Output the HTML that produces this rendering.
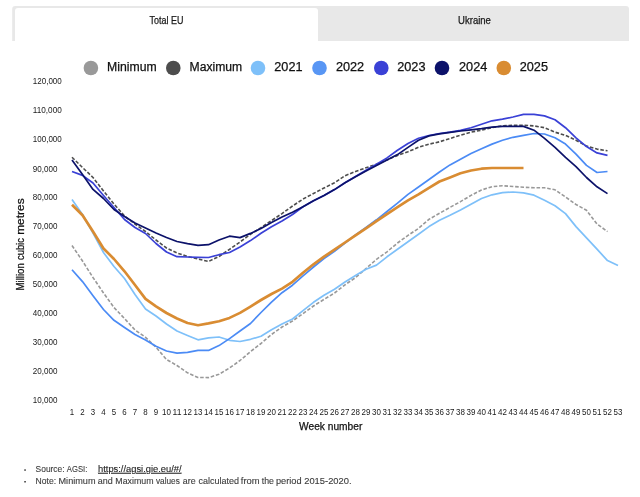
<!DOCTYPE html>
<html lang="en"><head><meta charset="utf-8"><title>Gas storage</title>
<style>
html,body{margin:0;padding:0;background:#fff;}
body{width:640px;height:497px;overflow:hidden;font-family:"Liberation Sans",sans-serif;}
svg{display:block}
svg text{font-family:"Liberation Sans",sans-serif;}
.ln{fill:none;stroke-linejoin:round;stroke-linecap:butt}
</style></head><body>
<svg width="640" height="497" viewBox="0 0 640 497">
<rect width="640" height="497" fill="#fff"/>

<path d="M12.2,41 V9 a3,3 0 0 1 3,-3 H626 a3,3 0 0 1 3,3 V41 Z" fill="#e8e8e8"/>
<path d="M15,42 V11 a3,3 0 0 1 3,-3 H315 a3,3 0 0 1 3,3 V42 Z" fill="#fff"/>
<text x="166.5" y="23.9" font-size="10.3" fill="#1a1a1a" stroke="#1a1a1a" stroke-width="0.25" text-anchor="middle" textLength="33.8" lengthAdjust="spacingAndGlyphs">Total EU</text>
<text x="474.5" y="23.9" font-size="10.3" fill="#1a1a1a" stroke="#1a1a1a" stroke-width="0.25" text-anchor="middle" textLength="32.8" lengthAdjust="spacingAndGlyphs">Ukraine</text>
<circle cx="90.9" cy="68" r="7.3" fill="#999999"/>
<text x="107.1" y="71" font-size="12.3" fill="#111" stroke="#111" stroke-width="0.25" textLength="49.6" lengthAdjust="spacingAndGlyphs">Minimum</text>
<circle cx="173.3" cy="68" r="7.3" fill="#4d4d4d"/>
<text x="189.6" y="71" font-size="12.3" fill="#111" stroke="#111" stroke-width="0.25" textLength="52.6" lengthAdjust="spacingAndGlyphs">Maximum</text>
<circle cx="258" cy="68" r="7.3" fill="#7ec0f9"/>
<text x="274.3" y="71" font-size="12.3" fill="#111" stroke="#111" stroke-width="0.25" textLength="28.2" lengthAdjust="spacingAndGlyphs">2021</text>
<circle cx="319.5" cy="68" r="7.3" fill="#5896f4"/>
<text x="335.9" y="71" font-size="12.3" fill="#111" stroke="#111" stroke-width="0.25" textLength="28.3" lengthAdjust="spacingAndGlyphs">2022</text>
<circle cx="381.3" cy="68" r="7.3" fill="#3a41d6"/>
<text x="397.2" y="71" font-size="12.3" fill="#111" stroke="#111" stroke-width="0.25" textLength="28.3" lengthAdjust="spacingAndGlyphs">2023</text>
<circle cx="442" cy="68" r="7.3" fill="#0c126a"/>
<text x="459" y="71" font-size="12.3" fill="#111" stroke="#111" stroke-width="0.25" textLength="28.3" lengthAdjust="spacingAndGlyphs">2024</text>
<circle cx="503.8" cy="68" r="7.3" fill="#d98c32"/>
<text x="519.7" y="71" font-size="12.3" fill="#111" stroke="#111" stroke-width="0.25" textLength="28.3" lengthAdjust="spacingAndGlyphs">2025</text>
<text x="32.8" y="84.1" font-size="8.2" fill="#1a1a1a" textLength="29.0" lengthAdjust="spacingAndGlyphs">120,000</text>
<text x="32.8" y="113.1" font-size="8.2" fill="#1a1a1a" textLength="29.0" lengthAdjust="spacingAndGlyphs">110,000</text>
<text x="32.8" y="142.0" font-size="8.2" fill="#1a1a1a" textLength="29.0" lengthAdjust="spacingAndGlyphs">100,000</text>
<text x="32.8" y="172.0" font-size="8.2" fill="#1a1a1a" textLength="24.6" lengthAdjust="spacingAndGlyphs">90,000</text>
<text x="32.8" y="200.0" font-size="8.2" fill="#1a1a1a" textLength="24.6" lengthAdjust="spacingAndGlyphs">80,000</text>
<text x="32.8" y="228.9" font-size="8.2" fill="#1a1a1a" textLength="24.6" lengthAdjust="spacingAndGlyphs">70,000</text>
<text x="32.8" y="257.9" font-size="8.2" fill="#1a1a1a" textLength="24.6" lengthAdjust="spacingAndGlyphs">60,000</text>
<text x="32.8" y="286.9" font-size="8.2" fill="#1a1a1a" textLength="24.6" lengthAdjust="spacingAndGlyphs">50,000</text>
<text x="32.8" y="315.9" font-size="8.2" fill="#1a1a1a" textLength="24.6" lengthAdjust="spacingAndGlyphs">40,000</text>
<text x="32.8" y="344.8" font-size="8.2" fill="#1a1a1a" textLength="24.6" lengthAdjust="spacingAndGlyphs">30,000</text>
<text x="32.8" y="373.8" font-size="8.2" fill="#1a1a1a" textLength="24.6" lengthAdjust="spacingAndGlyphs">20,000</text>
<text x="32.8" y="402.8" font-size="8.2" fill="#1a1a1a" textLength="24.6" lengthAdjust="spacingAndGlyphs">10,000</text>
<text x="72.0" y="414.6" font-size="8.2" fill="#1a1a1a" text-anchor="middle" textLength="4.4" lengthAdjust="spacingAndGlyphs">1</text>
<text x="82.5" y="414.6" font-size="8.2" fill="#1a1a1a" text-anchor="middle" textLength="4.4" lengthAdjust="spacingAndGlyphs">2</text>
<text x="93.0" y="414.6" font-size="8.2" fill="#1a1a1a" text-anchor="middle" textLength="4.4" lengthAdjust="spacingAndGlyphs">3</text>
<text x="103.5" y="414.6" font-size="8.2" fill="#1a1a1a" text-anchor="middle" textLength="4.4" lengthAdjust="spacingAndGlyphs">4</text>
<text x="114.0" y="414.6" font-size="8.2" fill="#1a1a1a" text-anchor="middle" textLength="4.4" lengthAdjust="spacingAndGlyphs">5</text>
<text x="124.5" y="414.6" font-size="8.2" fill="#1a1a1a" text-anchor="middle" textLength="4.4" lengthAdjust="spacingAndGlyphs">6</text>
<text x="135.0" y="414.6" font-size="8.2" fill="#1a1a1a" text-anchor="middle" textLength="4.4" lengthAdjust="spacingAndGlyphs">7</text>
<text x="145.5" y="414.6" font-size="8.2" fill="#1a1a1a" text-anchor="middle" textLength="4.4" lengthAdjust="spacingAndGlyphs">8</text>
<text x="156.0" y="414.6" font-size="8.2" fill="#1a1a1a" text-anchor="middle" textLength="4.4" lengthAdjust="spacingAndGlyphs">9</text>
<text x="166.5" y="414.6" font-size="8.2" fill="#1a1a1a" text-anchor="middle" textLength="8.9" lengthAdjust="spacingAndGlyphs">10</text>
<text x="177.0" y="414.6" font-size="8.2" fill="#1a1a1a" text-anchor="middle" textLength="8.9" lengthAdjust="spacingAndGlyphs">11</text>
<text x="187.5" y="414.6" font-size="8.2" fill="#1a1a1a" text-anchor="middle" textLength="8.9" lengthAdjust="spacingAndGlyphs">12</text>
<text x="198.0" y="414.6" font-size="8.2" fill="#1a1a1a" text-anchor="middle" textLength="8.9" lengthAdjust="spacingAndGlyphs">13</text>
<text x="208.5" y="414.6" font-size="8.2" fill="#1a1a1a" text-anchor="middle" textLength="8.9" lengthAdjust="spacingAndGlyphs">14</text>
<text x="219.0" y="414.6" font-size="8.2" fill="#1a1a1a" text-anchor="middle" textLength="8.9" lengthAdjust="spacingAndGlyphs">15</text>
<text x="229.5" y="414.6" font-size="8.2" fill="#1a1a1a" text-anchor="middle" textLength="8.9" lengthAdjust="spacingAndGlyphs">16</text>
<text x="240.0" y="414.6" font-size="8.2" fill="#1a1a1a" text-anchor="middle" textLength="8.9" lengthAdjust="spacingAndGlyphs">17</text>
<text x="250.5" y="414.6" font-size="8.2" fill="#1a1a1a" text-anchor="middle" textLength="8.9" lengthAdjust="spacingAndGlyphs">18</text>
<text x="261.0" y="414.6" font-size="8.2" fill="#1a1a1a" text-anchor="middle" textLength="8.9" lengthAdjust="spacingAndGlyphs">19</text>
<text x="271.5" y="414.6" font-size="8.2" fill="#1a1a1a" text-anchor="middle" textLength="8.9" lengthAdjust="spacingAndGlyphs">20</text>
<text x="282.0" y="414.6" font-size="8.2" fill="#1a1a1a" text-anchor="middle" textLength="8.9" lengthAdjust="spacingAndGlyphs">21</text>
<text x="292.5" y="414.6" font-size="8.2" fill="#1a1a1a" text-anchor="middle" textLength="8.9" lengthAdjust="spacingAndGlyphs">22</text>
<text x="303.0" y="414.6" font-size="8.2" fill="#1a1a1a" text-anchor="middle" textLength="8.9" lengthAdjust="spacingAndGlyphs">23</text>
<text x="313.5" y="414.6" font-size="8.2" fill="#1a1a1a" text-anchor="middle" textLength="8.9" lengthAdjust="spacingAndGlyphs">24</text>
<text x="324.0" y="414.6" font-size="8.2" fill="#1a1a1a" text-anchor="middle" textLength="8.9" lengthAdjust="spacingAndGlyphs">25</text>
<text x="334.5" y="414.6" font-size="8.2" fill="#1a1a1a" text-anchor="middle" textLength="8.9" lengthAdjust="spacingAndGlyphs">26</text>
<text x="345.0" y="414.6" font-size="8.2" fill="#1a1a1a" text-anchor="middle" textLength="8.9" lengthAdjust="spacingAndGlyphs">27</text>
<text x="355.5" y="414.6" font-size="8.2" fill="#1a1a1a" text-anchor="middle" textLength="8.9" lengthAdjust="spacingAndGlyphs">28</text>
<text x="366.0" y="414.6" font-size="8.2" fill="#1a1a1a" text-anchor="middle" textLength="8.9" lengthAdjust="spacingAndGlyphs">29</text>
<text x="376.5" y="414.6" font-size="8.2" fill="#1a1a1a" text-anchor="middle" textLength="8.9" lengthAdjust="spacingAndGlyphs">30</text>
<text x="387.0" y="414.6" font-size="8.2" fill="#1a1a1a" text-anchor="middle" textLength="8.9" lengthAdjust="spacingAndGlyphs">31</text>
<text x="397.5" y="414.6" font-size="8.2" fill="#1a1a1a" text-anchor="middle" textLength="8.9" lengthAdjust="spacingAndGlyphs">32</text>
<text x="408.0" y="414.6" font-size="8.2" fill="#1a1a1a" text-anchor="middle" textLength="8.9" lengthAdjust="spacingAndGlyphs">33</text>
<text x="418.5" y="414.6" font-size="8.2" fill="#1a1a1a" text-anchor="middle" textLength="8.9" lengthAdjust="spacingAndGlyphs">34</text>
<text x="429.0" y="414.6" font-size="8.2" fill="#1a1a1a" text-anchor="middle" textLength="8.9" lengthAdjust="spacingAndGlyphs">35</text>
<text x="439.5" y="414.6" font-size="8.2" fill="#1a1a1a" text-anchor="middle" textLength="8.9" lengthAdjust="spacingAndGlyphs">36</text>
<text x="450.0" y="414.6" font-size="8.2" fill="#1a1a1a" text-anchor="middle" textLength="8.9" lengthAdjust="spacingAndGlyphs">37</text>
<text x="460.5" y="414.6" font-size="8.2" fill="#1a1a1a" text-anchor="middle" textLength="8.9" lengthAdjust="spacingAndGlyphs">38</text>
<text x="471.0" y="414.6" font-size="8.2" fill="#1a1a1a" text-anchor="middle" textLength="8.9" lengthAdjust="spacingAndGlyphs">39</text>
<text x="481.5" y="414.6" font-size="8.2" fill="#1a1a1a" text-anchor="middle" textLength="8.9" lengthAdjust="spacingAndGlyphs">40</text>
<text x="492.0" y="414.6" font-size="8.2" fill="#1a1a1a" text-anchor="middle" textLength="8.9" lengthAdjust="spacingAndGlyphs">41</text>
<text x="502.5" y="414.6" font-size="8.2" fill="#1a1a1a" text-anchor="middle" textLength="8.9" lengthAdjust="spacingAndGlyphs">42</text>
<text x="513.0" y="414.6" font-size="8.2" fill="#1a1a1a" text-anchor="middle" textLength="8.9" lengthAdjust="spacingAndGlyphs">43</text>
<text x="523.5" y="414.6" font-size="8.2" fill="#1a1a1a" text-anchor="middle" textLength="8.9" lengthAdjust="spacingAndGlyphs">44</text>
<text x="534.0" y="414.6" font-size="8.2" fill="#1a1a1a" text-anchor="middle" textLength="8.9" lengthAdjust="spacingAndGlyphs">45</text>
<text x="544.5" y="414.6" font-size="8.2" fill="#1a1a1a" text-anchor="middle" textLength="8.9" lengthAdjust="spacingAndGlyphs">46</text>
<text x="555.0" y="414.6" font-size="8.2" fill="#1a1a1a" text-anchor="middle" textLength="8.9" lengthAdjust="spacingAndGlyphs">47</text>
<text x="565.5" y="414.6" font-size="8.2" fill="#1a1a1a" text-anchor="middle" textLength="8.9" lengthAdjust="spacingAndGlyphs">48</text>
<text x="576.0" y="414.6" font-size="8.2" fill="#1a1a1a" text-anchor="middle" textLength="8.9" lengthAdjust="spacingAndGlyphs">49</text>
<text x="586.5" y="414.6" font-size="8.2" fill="#1a1a1a" text-anchor="middle" textLength="8.9" lengthAdjust="spacingAndGlyphs">50</text>
<text x="597.0" y="414.6" font-size="8.2" fill="#1a1a1a" text-anchor="middle" textLength="8.9" lengthAdjust="spacingAndGlyphs">51</text>
<text x="607.5" y="414.6" font-size="8.2" fill="#1a1a1a" text-anchor="middle" textLength="8.9" lengthAdjust="spacingAndGlyphs">52</text>
<text x="618.0" y="414.6" font-size="8.2" fill="#1a1a1a" text-anchor="middle" textLength="8.9" lengthAdjust="spacingAndGlyphs">53</text>
<text x="330.7" y="429.7" font-size="10.3" fill="#111" stroke="#111" stroke-width="0.25" text-anchor="middle" textLength="63.2" lengthAdjust="spacingAndGlyphs">Week number</text>
<text transform="translate(23.7,290.4) rotate(-90)" font-size="10.3" fill="#111" stroke="#111" stroke-width="0.25" textLength="27.2" lengthAdjust="spacingAndGlyphs">Million</text>
<text transform="translate(23.7,260.0) rotate(-90)" font-size="10.3" fill="#111" stroke="#111" stroke-width="0.25" textLength="21.9" lengthAdjust="spacingAndGlyphs">cubic</text>
<text transform="translate(23.7,234.8) rotate(-90)" font-size="10.3" fill="#111" stroke="#111" stroke-width="0.25" textLength="36.4" lengthAdjust="spacingAndGlyphs">metres</text>
<path class="ln" d="M72.0,245.5 L82.5,261.0 L93.0,277.5 L103.5,293.0 L114.0,307.5 L124.5,318.5 L135.0,330.0 L145.5,337.3 L156.0,347.3 L166.5,359.5 L177.0,365.5 L187.5,372.8 L198.0,377.5 L208.5,377.6 L219.0,374.3 L229.5,368.0 L240.0,360.5 L250.5,351.6 L261.0,343.5 L271.5,334.5 L282.0,327.0 L292.5,321.0 L303.0,313.6 L313.5,306.0 L324.0,299.4 L334.5,293.0 L345.0,284.8 L355.5,277.6 L366.0,268.5 L376.5,259.3 L387.0,251.8 L397.5,243.0 L408.0,235.4 L418.5,228.4 L429.0,219.3 L439.5,213.3 L450.0,207.4 L460.5,201.6 L471.0,195.4 L481.5,190.0 L492.0,186.7 L502.5,185.7 L513.0,186.5 L523.5,187.2 L534.0,187.8 L544.5,187.8 L555.0,189.8 L565.5,197.0 L576.0,204.5 L586.5,210.3 L597.0,224.0 L607.5,231.6" stroke="#999999" stroke-width="1.6" stroke-dasharray="3.57 1.79"/>
<path class="ln" d="M72.0,157.3 L82.5,167.5 L93.0,177.5 L103.5,191.0 L114.0,204.0 L124.5,216.0 L135.0,224.0 L145.5,231.5 L156.0,240.0 L166.5,248.0 L177.0,253.0 L187.5,256.5 L198.0,259.0 L208.5,261.5 L219.0,256.5 L229.5,249.4 L240.0,242.0 L250.5,234.3 L261.0,227.6 L271.5,220.6 L282.0,213.6 L292.5,206.0 L303.0,199.1 L313.5,193.5 L324.0,188.0 L334.5,182.8 L345.0,175.7 L355.5,171.5 L366.0,167.8 L376.5,164.2 L387.0,159.9 L397.5,155.4 L408.0,151.8 L418.5,147.2 L429.0,144.2 L439.5,141.8 L450.0,138.5 L460.5,135.2 L471.0,132.2 L481.5,130.2 L492.0,127.7 L502.5,125.7 L513.0,125.3 L523.5,125.2 L534.0,125.9 L544.5,127.7 L555.0,132.2 L565.5,135.3 L576.0,140.3 L586.5,146.1 L597.0,149.1 L607.5,150.8" stroke="#4d4d4d" stroke-width="1.6" stroke-dasharray="3.57 1.79"/>
<path class="ln" d="M72.0,199.6 L82.5,214.5 L93.0,233.0 L103.5,252.5 L114.0,266.5 L124.5,278.5 L135.0,294.5 L145.5,309.0 L156.0,316.0 L166.5,324.0 L177.0,331.0 L187.5,335.5 L198.0,339.8 L208.5,337.9 L219.0,337.0 L229.5,340.3 L240.0,341.5 L250.5,339.3 L261.0,336.3 L271.5,329.8 L282.0,324.0 L292.5,319.0 L303.0,310.6 L313.5,302.3 L324.0,295.3 L334.5,289.2 L345.0,282.0 L355.5,275.5 L366.0,269.3 L376.5,265.1 L387.0,256.8 L397.5,249.2 L408.0,241.7 L418.5,234.2 L429.0,226.6 L439.5,220.3 L450.0,215.3 L460.5,210.0 L471.0,204.2 L481.5,198.5 L492.0,194.8 L502.5,192.6 L513.0,192.0 L523.5,192.9 L534.0,195.2 L544.5,200.2 L555.0,205.7 L565.5,213.6 L576.0,226.6 L586.5,237.9 L597.0,249.2 L607.5,260.6 L618.0,265.6" stroke="#7ec0f9" stroke-width="1.7"/>
<path class="ln" d="M72.0,269.7 L82.5,281.6 L93.0,295.7 L103.5,309.5 L114.0,320.3 L124.5,327.5 L135.0,334.5 L145.5,340.0 L156.0,346.3 L166.5,351.0 L177.0,353.2 L187.5,352.3 L198.0,350.4 L208.5,350.4 L219.0,345.6 L229.5,338.6 L240.0,331.0 L250.5,323.5 L261.0,312.5 L271.5,302.2 L282.0,292.7 L292.5,285.2 L303.0,275.8 L313.5,267.0 L324.0,258.5 L334.5,251.4 L345.0,243.0 L355.5,235.0 L366.0,227.4 L376.5,219.8 L387.0,211.5 L397.5,203.2 L408.0,194.4 L418.5,187.0 L429.0,179.5 L439.5,172.0 L450.0,164.9 L460.5,159.2 L471.0,153.6 L481.5,148.8 L492.0,144.1 L502.5,140.3 L513.0,137.3 L523.5,135.3 L534.0,133.5 L544.5,134.0 L555.0,137.8 L565.5,144.1 L576.0,154.1 L586.5,165.4 L597.0,172.5 L607.5,171.5" stroke="#4b8bf5" stroke-width="1.7"/>
<path class="ln" d="M72.0,171.5 L82.5,175.4 L93.0,183.0 L103.5,195.5 L114.0,207.5 L124.5,219.5 L135.0,227.5 L145.5,233.5 L156.0,243.5 L166.5,252.0 L177.0,256.7 L187.5,257.0 L198.0,257.3 L208.5,257.5 L219.0,254.7 L229.5,252.5 L240.0,246.9 L250.5,240.6 L261.0,233.3 L271.5,226.8 L282.0,221.0 L292.5,214.5 L303.0,206.8 L313.5,200.8 L324.0,195.5 L334.5,189.6 L345.0,182.8 L355.5,176.5 L366.0,170.3 L376.5,164.2 L387.0,157.9 L397.5,150.3 L408.0,143.5 L418.5,138.3 L429.0,135.5 L439.5,133.5 L450.0,132.2 L460.5,130.4 L471.0,127.7 L481.5,124.3 L492.0,120.8 L502.5,119.2 L513.0,117.0 L523.5,114.4 L534.0,114.4 L544.5,115.9 L555.0,119.7 L565.5,127.7 L576.0,137.8 L586.5,146.6 L597.0,152.9 L607.5,155.4" stroke="#3a41d6" stroke-width="1.7"/>
<path class="ln" d="M72.0,160.0 L82.5,174.5 L93.0,189.4 L103.5,198.5 L114.0,209.5 L124.5,216.5 L135.0,223.0 L145.5,228.0 L156.0,233.0 L166.5,237.5 L177.0,241.5 L187.5,243.7 L198.0,245.4 L208.5,244.7 L219.0,240.0 L229.5,236.2 L240.0,237.6 L250.5,233.4 L261.0,228.6 L271.5,222.5 L282.0,217.0 L292.5,212.3 L303.0,206.7 L313.5,200.8 L324.0,195.5 L334.5,189.6 L345.0,182.8 L355.5,176.7 L366.0,170.9 L376.5,165.4 L387.0,159.9 L397.5,154.6 L408.0,147.4 L418.5,140.3 L429.0,135.9 L439.5,133.8 L450.0,132.3 L460.5,131.0 L471.0,129.8 L481.5,128.7 L492.0,127.2 L502.5,126.4 L513.0,126.4 L523.5,126.4 L534.0,130.2 L544.5,138.3 L555.0,147.3 L565.5,157.4 L576.0,166.7 L586.5,177.5 L597.0,186.8 L607.5,193.6" stroke="#0c126a" stroke-width="1.7"/>
<path class="ln" d="M72.0,204.7 L82.5,215.3 L93.0,231.5 L103.5,248.5 L114.0,259.0 L124.5,271.3 L135.0,285.0 L145.5,298.9 L156.0,306.3 L166.5,313.0 L177.0,318.5 L187.5,323.0 L198.0,325.2 L208.5,323.4 L219.0,321.3 L229.5,317.9 L240.0,312.9 L250.5,306.6 L261.0,300.0 L271.5,294.0 L282.0,288.6 L292.5,281.8 L303.0,272.8 L313.5,264.3 L324.0,256.7 L334.5,249.7 L345.0,242.5 L355.5,235.3 L366.0,228.3 L376.5,221.1 L387.0,214.2 L397.5,207.2 L408.0,200.4 L418.5,194.4 L429.0,187.8 L439.5,181.5 L450.0,177.5 L460.5,173.3 L471.0,170.5 L481.5,168.7 L492.0,168.0 L502.5,168.0 L513.0,168.0 L523.5,168.0" stroke="#d98c32" stroke-width="2.68"/>
<rect x="24.3" y="469.3" width="1.5" height="1.5" fill="#333"/>
<rect x="24.3" y="481" width="1.5" height="1.5" fill="#333"/>
<text x="35.6" y="471.8" font-size="9.2" fill="#3c3c3c" stroke="#3c3c3c" stroke-width="0.12" textLength="29" lengthAdjust="spacingAndGlyphs">Source:</text>
<text x="66.8" y="471.8" font-size="9.2" fill="#3c3c3c" stroke="#3c3c3c" stroke-width="0.12" textLength="20.5" lengthAdjust="spacingAndGlyphs">AGSI:</text>
<text x="98" y="471.8" font-size="9.2" fill="#222" stroke="#222" stroke-width="0.12" textLength="83.6" lengthAdjust="spacingAndGlyphs" text-decoration="underline">https://agsi.gie.eu/#/</text>
<text x="35.6" y="483.6" font-size="9.2" fill="#3c3c3c" stroke="#3c3c3c" stroke-width="0.12" textLength="20.5" lengthAdjust="spacingAndGlyphs">Note:</text>
<text x="58.5" y="483.6" font-size="9.2" fill="#3c3c3c" stroke="#3c3c3c" stroke-width="0.12" textLength="37" lengthAdjust="spacingAndGlyphs">Minimum</text>
<text x="97.8" y="483.6" font-size="9.2" fill="#3c3c3c" stroke="#3c3c3c" stroke-width="0.12" textLength="15" lengthAdjust="spacingAndGlyphs">and</text>
<text x="115.3" y="483.6" font-size="9.2" fill="#3c3c3c" stroke="#3c3c3c" stroke-width="0.12" textLength="38.2" lengthAdjust="spacingAndGlyphs">Maximum</text>
<text x="156" y="483.6" font-size="9.2" fill="#3c3c3c" stroke="#3c3c3c" stroke-width="0.12" textLength="23.8" lengthAdjust="spacingAndGlyphs">values</text>
<text x="182.8" y="483.6" font-size="9.2" fill="#3c3c3c" stroke="#3c3c3c" stroke-width="0.12" textLength="12.8" lengthAdjust="spacingAndGlyphs">are</text>
<text x="198.6" y="483.6" font-size="9.2" fill="#3c3c3c" stroke="#3c3c3c" stroke-width="0.12" textLength="40.5" lengthAdjust="spacingAndGlyphs">calculated</text>
<text x="240.8" y="483.6" font-size="9.2" fill="#3c3c3c" stroke="#3c3c3c" stroke-width="0.12" textLength="18.8" lengthAdjust="spacingAndGlyphs">from</text>
<text x="261.8" y="483.6" font-size="9.2" fill="#3c3c3c" stroke="#3c3c3c" stroke-width="0.12" textLength="12.2" lengthAdjust="spacingAndGlyphs">the</text>
<text x="276" y="483.6" font-size="9.2" fill="#3c3c3c" stroke="#3c3c3c" stroke-width="0.12" textLength="25.6" lengthAdjust="spacingAndGlyphs">period</text>
<text x="304.2" y="483.6" font-size="9.2" fill="#3c3c3c" stroke="#3c3c3c" stroke-width="0.12" textLength="47.4" lengthAdjust="spacingAndGlyphs">2015-2020.</text>
</svg></body></html>
